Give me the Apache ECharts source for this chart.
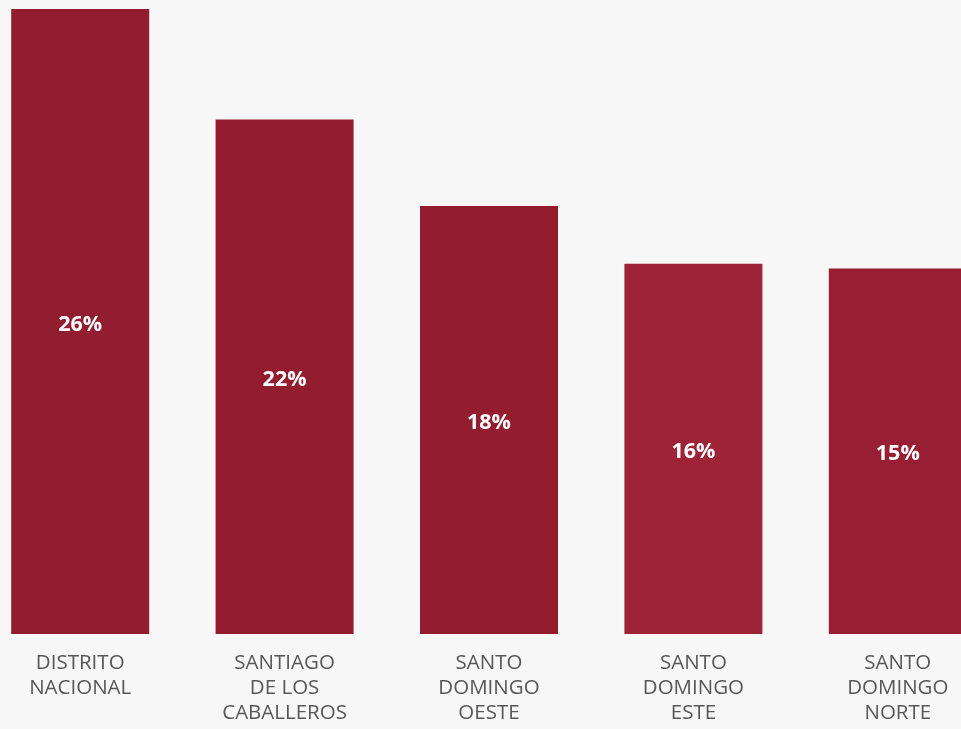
<!DOCTYPE html>
<html>
<head>
<meta charset="utf-8">
<script src="https://cdn.jsdelivr.net/npm/echarts@6/dist/echarts.min.js"></script>
<style>
html,body{margin:0;padding:0;background:#f7f7f7;overflow:hidden;width:961px;height:729px;position:relative;}
#c{position:absolute;left:-22px;top:0;width:1022px;height:729px;}
</style>
</head>
<body>
<div id="c"></div>
<script>
const categories = ["DISTRITO\nNACIONAL", "SANTIAGO\nDE LOS\nCABALLEROS", "SANTO\nDOMINGO\nOESTE", "SANTO\nDOMINGO\nESTE", "SANTO\nDOMINGO\nNORTE"];
const values = [26, 21.4, 17.8, 15.4, 15.2];
const valueLabels = ["26%", "22%", "18%", "16%", "15%"];
const barColors = ["#931d30", "#931c2f", "#941c2f", "#9e2337", "#981f33"];

const chart = echarts.init(document.getElementById('c'), null, {renderer: 'canvas'});
chart.setOption({
  backgroundColor: '#f7f7f7',
  animation: false,
  grid: {left: 0, right: 0, top: 9, bottom: 95, containLabel: false},
  xAxis: {
    type: 'category',
    data: categories,
    axisLine: {show: false},
    axisTick: {show: false},
    axisLabel: {
      interval: 0,
      margin: 17,
      color: '#575757',
      fontFamily: 'Open Sans',
      fontSize: 20.5,
      lineHeight: 25
    }
  },
  yAxis: {
    type: 'value', min: 0, max: 26, show: false,
    splitLine: {show: false}
  },
  series: [{
    type: 'bar',
    barWidth: 138,
    data: values.map((v, i) => ({value: v, itemStyle: {color: barColors[i]}})),
    label: {
      show: true,
      position: 'inside',
      color: '#ffffff',
      fontFamily: 'Open Sans',
      fontWeight: 'bold',
      fontSize: 21.5,
      offset: [0, 3],
      formatter: p => valueLabels[p.dataIndex]
    }
  }]
});
</script>
</body>
</html>
